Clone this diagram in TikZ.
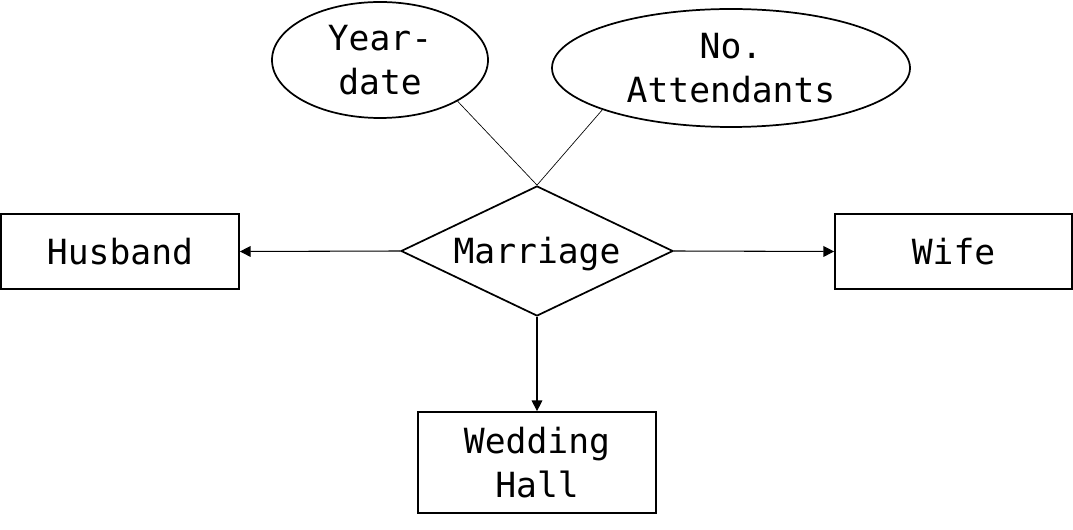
\documentclass[tikz,border=0pt]{standalone}
\usepackage{fontspec}
\setmonofont{DejaVu Sans Mono}
\usetikzlibrary{shapes.geometric,arrows.meta}
\begin{document}
\begin{tikzpicture}[x=0.75pt,y=-0.75pt,
  every node/.style={font=\ttfamily\fontsize{26}{33.5}\selectfont, align=center, inner sep=0pt},
  entity/.style={draw, line width=1.3pt, minimum width=178.5pt, minimum height=56.25pt},
  attr/.style={draw, ellipse, line width=1.3pt},
  rel/.style={draw, diamond, line width=1.3pt, minimum width=204pt, minimum height=97.5pt, aspect=2.09, text height=19.8pt, text depth=0.8pt},
  link/.style={line width=0.8pt, -{Triangle[length=8pt,width=8pt]}},
  attrlink/.style={line width=0.5pt}]
\useasboundingbox (0,0) rectangle (1073,530);
\node[rel] (m) at (537,251) {Marriage};
\node[entity] (h) at (120,251.5) {Husband};
\node[entity, minimum width=177.75pt] (w) at (953.5,251.5) {Wife};
\node[entity, minimum height=75.75pt] (wh) at (537,462.5) {Wedding\\Hall};
\node[attr, minimum width=162pt, minimum height=87pt] (yd) at (380,60) {Year-\\date};
\node[attr, minimum width=268.5pt, minimum height=88.5pt] (na) at (731,68) {No.\\Attendants};
\draw[link] (m.west) -- (h.east);
\draw[link] (m.east) -- (w.west);
\draw[link] (m.south) -- (wh.north);
\draw[attrlink] (m.north) -- (yd.-28);
\draw[attrlink] (m.north) -- (na.198.7);
\end{tikzpicture}
\end{document}
